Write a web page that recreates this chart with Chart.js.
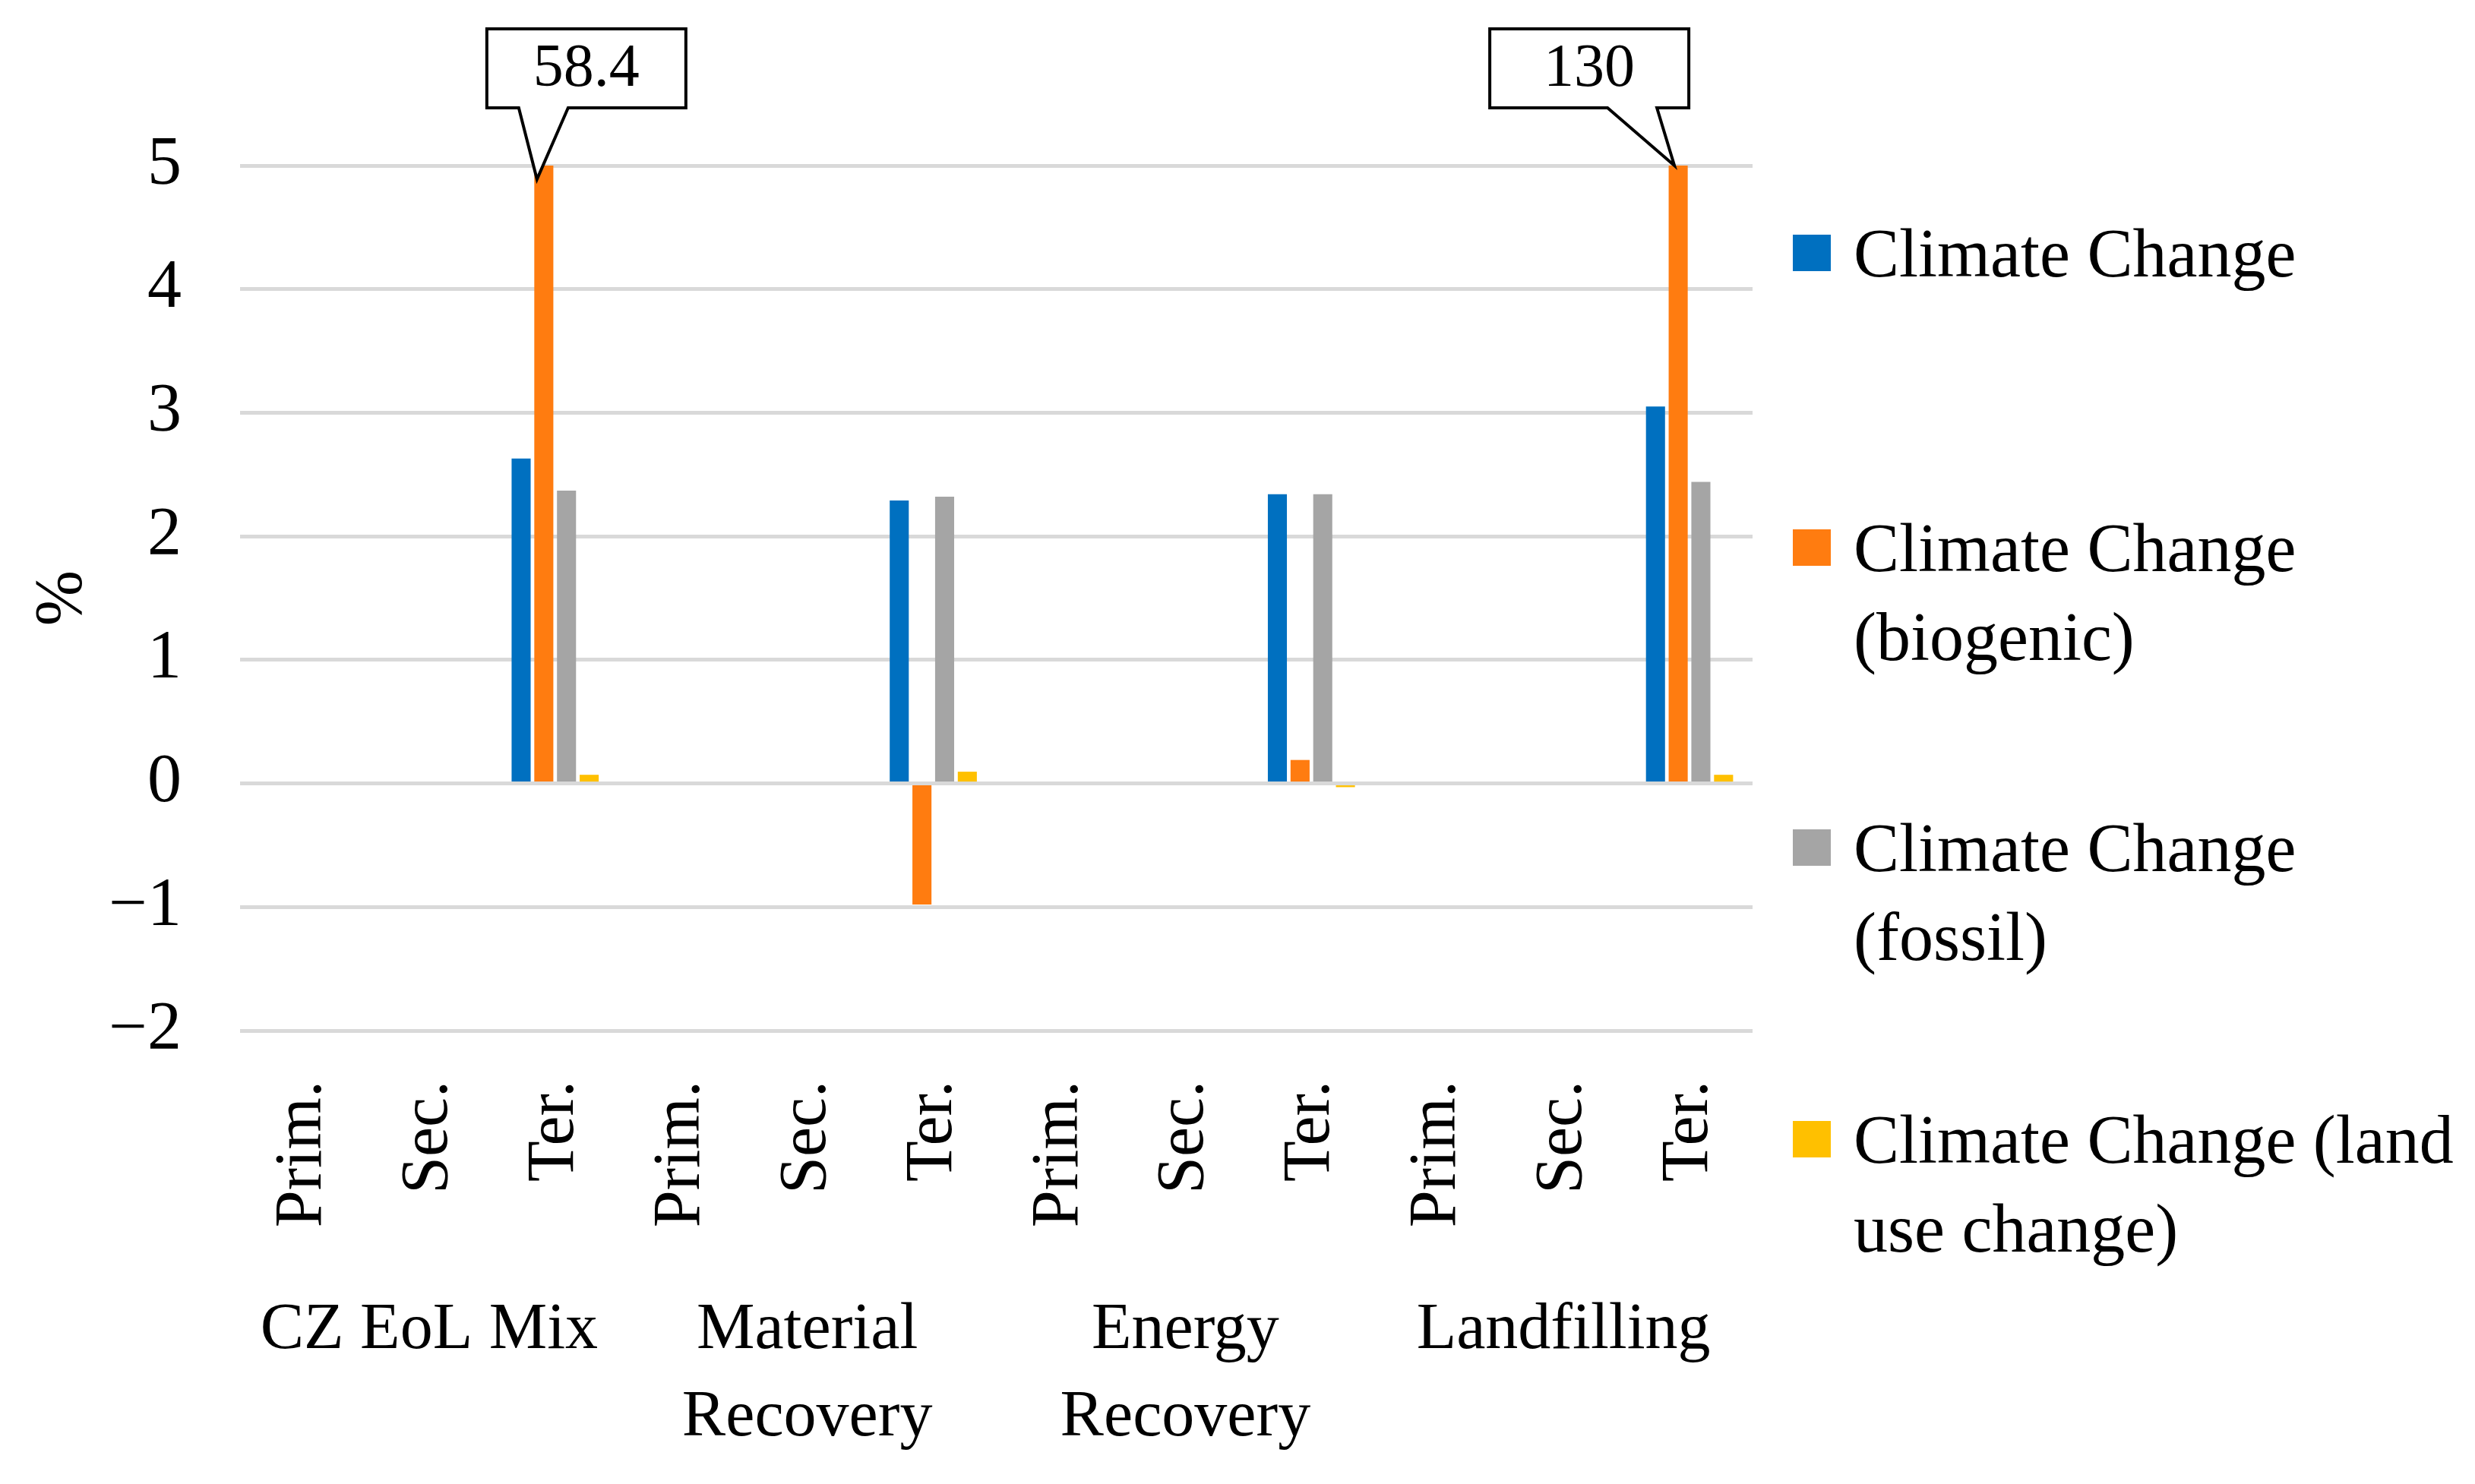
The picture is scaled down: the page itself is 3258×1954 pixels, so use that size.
<!DOCTYPE html>
<html>
<head>
<meta charset="utf-8">
<script src="https://cdn.jsdelivr.net/npm/chart.js@4.4.0/dist/chart.umd.min.js"></script>
<style>
  html, body { margin: 0; padding: 0; background: #fff; }
  #wrap { position: relative; width: 3258px; height: 1954px; }
  #legend { position: absolute; left: 2360px; top: 0; font-family: 'Liberation Serif', serif; font-size: 90px; line-height: 117px; color: #000; }
  .item { position: absolute; left: 0; white-space: nowrap; }
  .swatch { position: absolute; left: 0; top: 34px; width: 50px; height: 48px; }
  .text { margin-left: 80px; }
</style>
</head>
<body>
<div id="wrap">
  <canvas id="chart" width="3258" height="1954"></canvas>
  <div id="legend"></div>
</div>
<script>
// categories
const groups = ['CZ EoL Mix', ['Material', 'Recovery'], ['Energy', 'Recovery'], 'Landfilling'];
const levels = ['Prim.', 'Sec.', 'Ter.'];

// values in %, Prim. and Sec. have nothing plotted
const climateChange = [null, null, 2.63, null, null, 2.29, null, null, 2.34, null, null, 3.05];
const biogenic = [null, null, 58.4, null, null, -0.98, null, null, 0.19, null, null, 130];
const fossil = [null, null, 2.37, null, null, 2.32, null, null, 2.34, null, null, 2.44];
const landUse = [null, null, 0.07, null, null, 0.095, null, null, -0.03, null, null, 0.07];

const seriesNames = [
    ['Climate Change'],
    ['Climate Change', '(biogenic)'],
    ['Climate Change', '(fossil)'],
    ['Climate Change (land', 'use change)']
];
const colors = ['#0070C0', '#FF7C10', '#A5A5A5', '#FFC000'];
const yMin = -2, yMax = 5, yStep = 1;

const labels = groups.flatMap(() => levels);
const font = 'Liberation Serif';

// callout boxes for bars that run off the top of the axis
const callouts = {
    id: 'callouts',
    afterDatasetsDraw(chart) {
        const ctx = chart.ctx;
        const area = chart.chartArea;
        const max = chart.scales.y.max;
        const meta = chart.getDatasetMeta(1);
        meta.data.forEach(function(bar, i) {
            const v = biogenic[i];
            if (v == null || v <= max) return;
            const rightSide = bar.x > (area.left + area.right) / 2;
            const w = 262, h = 104;
            const top = area.top - 180;
            const left = rightSide ? bar.x - 248 : bar.x - 75;
            const b1 = rightSide ? bar.x - 93 : bar.x - 33;
            const b2 = rightSide ? bar.x - 28 : bar.x + 32;
            const tipX = rightSide ? bar.x - 5 : bar.x - 9;
            const tipY = rightSide ? area.top : area.top + 18;
            ctx.save();
            ctx.beginPath();
            ctx.moveTo(left, top);
            ctx.lineTo(left + w, top);
            ctx.lineTo(left + w, top + h);
            ctx.lineTo(b2, top + h);
            ctx.lineTo(tipX, tipY);
            ctx.lineTo(b1, top + h);
            ctx.lineTo(left, top + h);
            ctx.closePath();
            ctx.fillStyle = '#fff';
            ctx.fill();
            ctx.lineWidth = 4;
            ctx.strokeStyle = '#000';
            ctx.stroke();
            ctx.fillStyle = '#000';
            ctx.font = '80px "' + font + '"';
            ctx.textAlign = 'center';
            ctx.textBaseline = 'middle';
            ctx.fillText(String(v), left + w / 2, top + h / 2 + 2);
            ctx.restore();
        });
    }
};

const seriesData = [climateChange, biogenic, fossil, landUse];
const datasets = seriesData.map(function(d, i) {
    return {
        label: seriesNames[i].join(' '),
        data: d,
        backgroundColor: colors[i],
        borderWidth: 0,
        categoryPercentage: 0.72,
        barPercentage: 0.84
    };
});

const chart = new Chart(document.getElementById('chart'), {
    type: 'bar',
    data: { labels: labels, datasets: datasets },
    plugins: [callouts],
    options: {
        responsive: false,
        devicePixelRatio: 1,
        animation: false,
        layout: { padding: { top: 218, right: 951, left: 0, bottom: 0 } },
        plugins: { legend: { display: false }, tooltip: { enabled: false } },
        scales: {
            x: {
                grid: { display: false },
                border: { display: false },
                ticks: {
                    minRotation: 90, maxRotation: 90, autoSkip: false, padding: 58,
                    color: '#000', font: { family: font, size: 88 }
                },
                afterFit: function(s) { s.height = 330; }
            },
            x2: {
                type: 'category',
                labels: groups,
                position: 'bottom',
                offset: true,
                grid: { display: false },
                border: { display: false },
                ticks: {
                    maxRotation: 0, autoSkip: false, padding: 0,
                    color: '#000', font: { family: font, size: 86, lineHeight: 1.34 }
                },
                afterFit: function(s) { s.height = 267; }
            },
            y: {
                min: yMin,
                max: yMax,
                grid: { color: '#d9d9d9', lineWidth: 5, drawTicks: false },
                border: { display: false },
                ticks: {
                    stepSize: yStep, padding: 77, color: '#000',
                    font: { family: font, size: 90 },
                    callback: function(v) { return String(v).replace('-', '\u2212'); }
                },
                title: {
                    display: true, text: '%', color: '#000',
                    font: { family: font, size: 88 },
                    padding: { top: 30, bottom: 0 }
                },
                afterFit: function(s) { s.width = 316; }
            }
        }
    }
});

// legend on the right, Excel-style spacing
const legendTops = [275, 663, 1058, 1442];
const legend = document.getElementById('legend');
seriesNames.forEach(function(lines, i) {
    const item = document.createElement('div');
    item.className = 'item';
    item.style.top = legendTops[i] + 'px';
    const sw = document.createElement('div');
    sw.className = 'swatch';
    sw.style.background = colors[i];
    const tx = document.createElement('div');
    tx.className = 'text';
    tx.innerHTML = lines.join('<br>');
    item.appendChild(sw);
    item.appendChild(tx);
    legend.appendChild(item);
});
</script>
</body>
</html>
